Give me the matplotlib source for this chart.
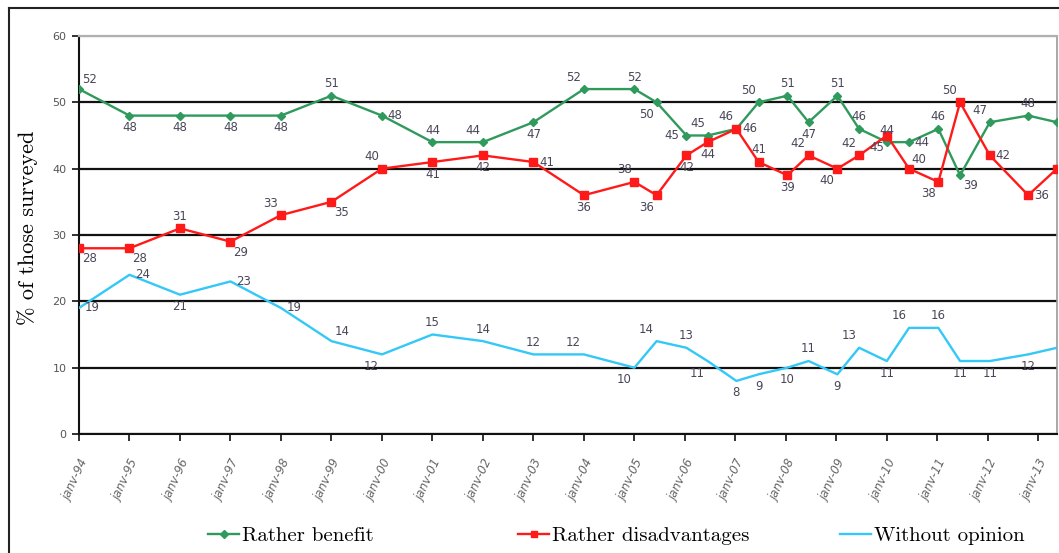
import matplotlib
matplotlib.use("Agg")
import matplotlib.pyplot as plt
from matplotlib.lines import Line2D
from matplotlib.transforms import ScaledTranslation

# survey dates as fractional years (januaries plus the mid-year waves)
dates = [1994, 1995, 1996, 1997, 1998, 1999, 2000, 2001, 2002, 2003, 2004, 2005,
         2005.44, 2006.03, 2006.45, 2007.02, 2007.46, 2008.03, 2008.45, 2009.02,
         2009.45, 2010.0, 2010.44, 2011.02, 2011.45, 2012.04, 2012.8, 2013.37]

benefit = [52, 48, 48, 48, 48, 51, 48, 44, 44, 47, 52, 52, 50, 45, 45, 46,
           50, 51, 47, 51, 46, 44, 44, 46, 39, 47, 48, 47]
disadvantages = [28, 28, 31, 29, 33, 35, 40, 41, 42, 41, 36, 38, 36, 42, 44, 46,
                 41, 39, 42, 40, 42, 45, 40, 38, 50, 42, 36, 40]
no_opinion = [19, 24, 21, 23, 19, 14, 12, 15, 14, 12, 12, 10, 14, 13, 11, 8,
              9, 10, 11, 9, 13, 11, 16, 16, 11, 11, 12, 13]

year_ticks = list(range(1994, 2014))
year_labels = ["janv-%02d" % (y % 100) for y in year_ticks]

# where each value label sits relative to its point
benefit_pos = ['ar', 'b', 'b', 'b', 'b', 'a', 'r', 'a', 'al', 'b', 'al', 'a', 'bl', 'l',
               'al', 'al', 'al', 'a', 'b', 'a', 'a', 'a', 'r', 'a', 'br', 'al', 'a', 'r']
disadv_pos = ['br', 'br', 'a', 'br', 'al', 'br', 'al', 'b', 'b', 'r', 'b', 'al', 'bl', 'b',
              'b', 'r', 'a', 'b', 'al', 'bl', 'al', 'bl', 'ar', 'bl', 'al', 'r', 'r', 'r']
noop_pos = ['r', 'r', 'b', 'r', 'r', 'ar', 'bl', 'a', 'a', 'a', 'al', 'bl', 'al', 'a',
            'bl', 'b', 'b', 'b', 'a', 'b', 'al', 'b', 'al', 'a', 'b', 'b', 'b', 'r']

offsets = {
    'a': ((0, 4), 'center', 'bottom'),
    'b': ((0, -4), 'center', 'top'),
    'r': ((4, 0), 'left', 'center'),
    'l': ((-5, 0), 'right', 'center'),
    'al': ((-2, 4), 'right', 'bottom'),
    'ar': ((2, 2), 'left', 'bottom'),
    'bl': ((-2, -4), 'right', 'top'),
    'br': ((2, -3), 'left', 'top'),
}

GREEN = "#2f9a5c"
RED = "#ff1a1a"
CYAN = "#33c8f7"
LABEL_COL = "#4a4658"
NUM_FONT = ["Liberation Sans Narrow", "DejaVu Sans"]

fig = plt.figure(figsize=(10.59, 5.53), dpi=100)
ax = fig.add_axes([79 / 1059, 1 - 434 / 553, (1057 - 79) / 1059, (434 - 36) / 553])

ax.plot(dates, benefit, color=GREEN, lw=1.7, marker="D", ms=4, zorder=4)
ax.plot(dates, disadvantages, color=RED, lw=1.7, marker="s", ms=6, zorder=4)
ax.plot(dates, no_opinion, color=CYAN, lw=1.7, zorder=4)

for vals, pos in [(benefit, benefit_pos), (disadvantages, disadv_pos), (no_opinion, noop_pos)]:
    for x, v, p in zip(dates, vals, pos):
        off, ha, va = offsets[p]
        ax.annotate(str(v), (x, v), xytext=off, textcoords="offset points",
                    ha=ha, va=va, fontsize=8.5, color=LABEL_COL, family=NUM_FONT,
                    annotation_clip=False, zorder=5)

ax.set_xlim(1994, 2013.37)
ax.set_ylim(0, 60)
ax.set_yticks(range(0, 61, 10))
ax.set_xticks(year_ticks)
ax.set_xticklabels(year_labels, rotation=65, ha="right", va="top",
                   rotation_mode="anchor", fontsize=8.5, color="#666666",
                   family=NUM_FONT, style="italic")
shift = ScaledTranslation(-5 / 72, 0, fig.dpi_scale_trans)
for lab in ax.get_xticklabels():
    lab.set_transform(lab.get_transform() + shift)
for lab in ax.get_yticklabels():
    lab.set_family(NUM_FONT)
    lab.set_color("#555555")
    lab.set_fontsize(8)
ax.tick_params(axis="x", length=5, width=1.3, color="#222222", pad=12)
ax.tick_params(axis="y", length=5, width=1.3, color="#222222", pad=4)

ax.grid(axis="y", color="#111111", lw=1.6, zorder=1)
ax.get_ygridlines()[-1].set_color("#b0b0b0")
ax.set_axisbelow(True)

for side in ["left", "bottom"]:
    ax.spines[side].set_color("#111111")
    ax.spines[side].set_linewidth(1.5)
ax.spines["top"].set_color("#b0b0b0")
ax.spines["top"].set_linewidth(1.6)
ax.spines["right"].set_color("#9a9a9a")
ax.spines["right"].set_linewidth(1.2)

fig.text(28 / 1059, 1 - 228 / 553, "% of those surveyed", rotation=90,
         ha="center", va="center", fontsize=16, family="cmr10")

# outer frame (left and top edges)
fig.add_artist(Line2D([9 / 1059, 9 / 1059], [0, 1 - 8 / 553], transform=fig.transFigure,
                      color="#222222", lw=1.5))
fig.add_artist(Line2D([9 / 1059, 1], [1 - 8 / 553, 1 - 8 / 553], transform=fig.transFigure,
                      color="#222222", lw=1.5))

entries = [
    (Line2D([], [], color=GREEN, lw=1.7, marker="D", ms=4), "Rather benefit", 208),
    (Line2D([], [], color=RED, lw=1.7, marker="s", ms=5), "Rather disadvantages", 518),
    (Line2D([], [], color=CYAN, lw=1.7), "Without opinion", 840),
]
for handle, text, xpix in entries:
    fig.legend([handle], [text], loc="center left",
               bbox_to_anchor=(xpix / 1059, 1 - 536 / 553), frameon=False,
               handlelength=1.5, handletextpad=0.15, borderpad=0, borderaxespad=0,
               prop={"family": "cmr10", "size": 15})

fig.savefig("out.png", dpi=100)
